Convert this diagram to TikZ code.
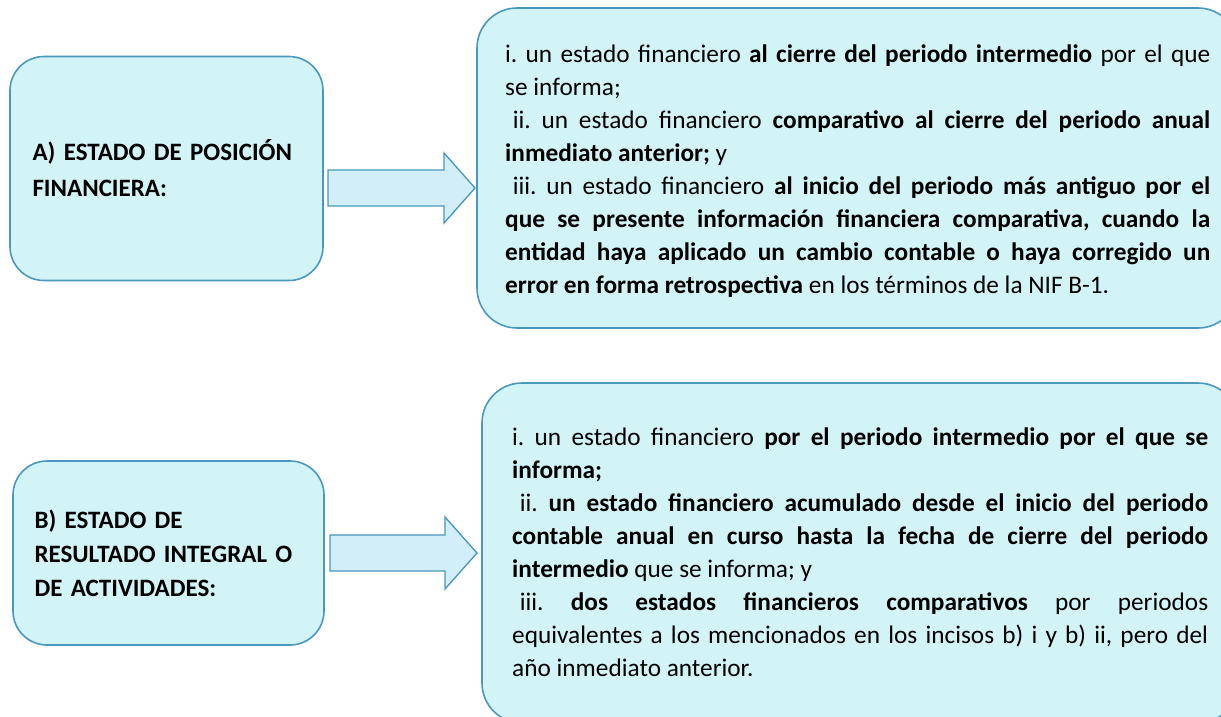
\documentclass[tikz,border=0pt]{standalone}
\usepackage{fontspec}
\setmainfont{Carlito}
\usepackage{tikz}
\usepackage{xcolor}
\usetikzlibrary{
    calc,
    positioning
}
\definecolor{cajafondo}{HTML}{D3F4F7}
\definecolor{cajaborde}{HTML}{4A98BE}
\definecolor{flechafondo}{HTML}{D2EEF9}
\definecolor{flechaborde}{HTML}{4596BE}
\frenchspacing

\begin{document}
\begin{tikzpicture}[x=1pt, y=-1pt,
    headbox/.style={draw=cajaborde, fill=cajafondo, line width=1.6pt,
        rounded corners=34pt, align=left, text width=268pt,
        font=\fontsize{25}{36}\selectfont\bfseries},
    infobox/.style={draw=cajaborde, fill=cajafondo, line width=1.6pt,
        rounded corners=40pt},
    infotext/.style={anchor=north west, inner sep=0pt, align=justify,
        font=\fontsize{25.3}{33}\selectfont},
    blockarrow/.style={draw=flechaborde, fill=flechafondo, line width=1.3pt}]
                        \useasboundingbox (0, 0) rectangle (1221, 716);
                        \clip (0, 0) rectangle (1221, 716);

                        % fila A
                        \node[headbox, minimum width=313pt, minimum height=224pt] (posA) at (166.5, 168.5)
                        {A) ESTADO DE POSICIÓN\\FINANCIERA:};
                        \node[infobox, minimum width=761pt, minimum height=320pt] (infoA) at (857.5, 168) {};
                        \node[infotext, text width=705pt] (txtA) at (505, 45)
                        {i. un estado financiero \textbf{al cierre del periodo intermedio} por el que\linebreak
                        se informa;\\
                        \hspace*{0.3em}ii. un estado financiero \textbf{comparativo al cierre del periodo anual}\linebreak
                        \textbf{inmediato anterior;} y\\
                        \hspace*{0.3em}iii. un estado financiero \textbf{al inicio del periodo más antiguo por el}\linebreak
                        \textbf{que se presente información financiera comparativa, cuando la}\linebreak
                        \textbf{entidad haya aplicado un cambio contable o haya corregido un}\linebreak
                        \textbf{error en forma retrospectiva} en los términos de la NIF B-1.};

                        \coordinate (arrAfrom) at (328, 188);
                        \coordinate (arrAto) at (475, 188);
                        \draw[blockarrow]
                        ($(arrAfrom)+(0, -18)$) -- ($(arrAto)+(-31, -18)$) -- ($(arrAto)+(-31, -35)$)
                        -- (arrAto) -- ($(arrAto)+(-31, 35)$) -- ($(arrAto)+(-31, 18)$)
                        -- ($(arrAfrom)+(0, 18)$) -- cycle;

                        % fila B
                        \node[headbox, minimum width=311pt, minimum height=184pt,
                        font=\fontsize{25}{34}\selectfont\bfseries] (resB) at (168.5, 553)
                        {B) ESTADO DE\\RESULTADO INTEGRAL O\\DE ACTIVIDADES:};
                        \node[infobox, minimum width=756pt, minimum height=340pt] (infoB) at (860, 553) {};
                        \node[infotext, text width=696pt] (txtB) at (512, 428)
                        {i. un estado financiero \textbf{por el periodo intermedio por el que se}\linebreak
                        \textbf{informa;}\\
                        \hspace*{0.3em}ii. \textbf{un estado financiero acumulado desde el inicio del periodo}\linebreak
                        \textbf{contable anual en curso hasta la fecha de cierre del periodo}\linebreak
                        \textbf{intermedio} que se informa; y\\
                        \hspace*{0.3em}iii. \textbf{dos estados financieros comparativos} por periodos\linebreak
                        equivalentes a los mencionados en los incisos b) i y b) ii, pero del\linebreak
                        año inmediato anterior.};

                        \coordinate (arrBfrom) at (330, 553);
                        \coordinate (arrBto) at (477, 553);
                        \draw[blockarrow]
                        ($(arrBfrom)+(0, -18)$) -- ($(arrBto)+(-32, -18)$) -- ($(arrBto)+(-32, -36)$)
                        -- (arrBto) -- ($(arrBto)+(-32, 36)$) -- ($(arrBto)+(-32, 18)$)
                        -- ($(arrBfrom)+(0, 18)$) -- cycle;
                    \end{tikzpicture}
\end{document}
